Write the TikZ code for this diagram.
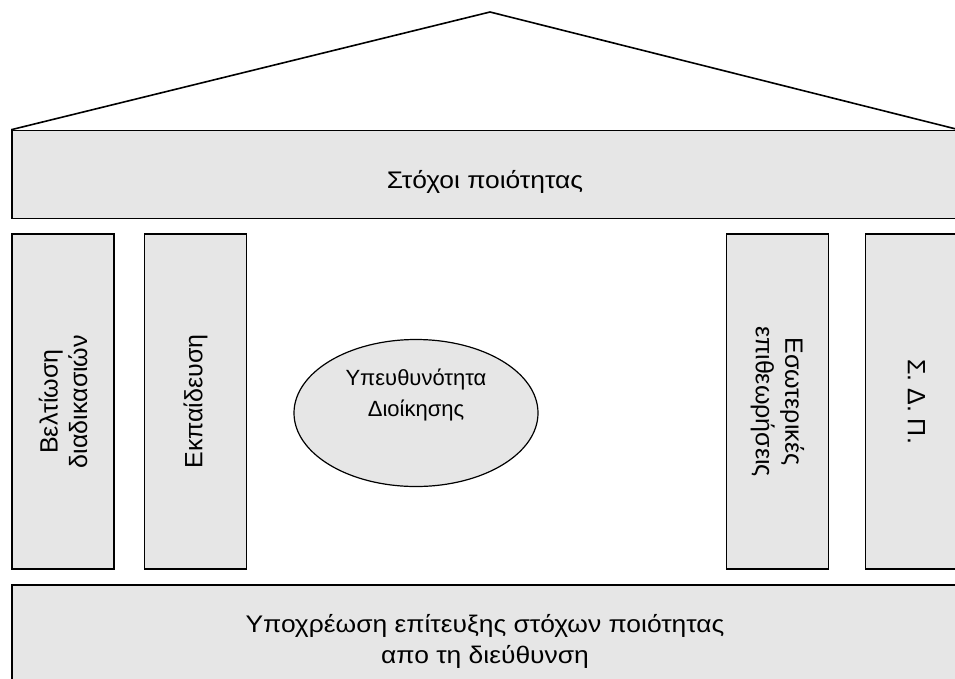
\documentclass[tikz,border=0pt]{standalone}
\usepackage{fontspec}
\setmainfont{Liberation Sans}
\newfontfamily\beamfont[FakeStretch=1.1]{Liberation Sans}
\usepackage{xcolor}
\usetikzlibrary{positioning, shapes.geometric}

\definecolor{stonegray}{HTML}{E6E6E6}

\begin{document}
\begin{tikzpicture}[
    x=1pt, y=-1pt,
    beam/.style={rectangle, draw=black, line width=1.6pt, fill=stonegray, minimum width=946pt, align=center, font=\beamfont\fontsize{24}{31}\selectfont},
    pillar/.style={rectangle, draw=black, line width=1.6pt, fill=stonegray, minimum width=335pt, minimum height=102pt, align=center, font=\fontsize{25}{29.5}\selectfont},
    core/.style={ellipse, draw=black, line width=1.2pt, fill=stonegray, minimum width=244pt, minimum height=147pt, align=center, font=\fontsize{22}{31}\selectfont},
  ]
  \useasboundingbox (0,0) rectangle (955,678);

  % Beams
  \node[beam, minimum height=88pt, text height=33pt] (goals) at (485,174.5) {Στόχοι ποιότητας};
  \node[beam, minimum height=112pt] (duty) at (485,641) {Υποχρέωση επίτευξης στόχων ποιότητας\\απο τη διεύθυνση};

  % Roof
  \coordinate (apex) at (490,12);
  \draw[line width=1.6pt, line join=miter] (goals.north west) -- (apex) -- (goals.north east);

  % Pillars
  \node[pillar, rotate=90] (proc) at (63,401.5) {Βελτίωση\\διαδικασιών};
  \node[pillar, rotate=90] (train) at (195.5,401.5) {Εκπαίδευση};
  \node[pillar, rotate=-90] (audit) at (777.5,401.5) {Εσωτερικές\\επιθεωρήσεις};
  \node[pillar, rotate=-90] (sdp) at (916.5,401.5) {Σ. Δ. Π.};

  % Centre
  \node[core, text depth=41pt] (mgmt) at (416,413) {Υπευθυνότητα\\Διοίκησης};

\end{tikzpicture}
\end{document}
